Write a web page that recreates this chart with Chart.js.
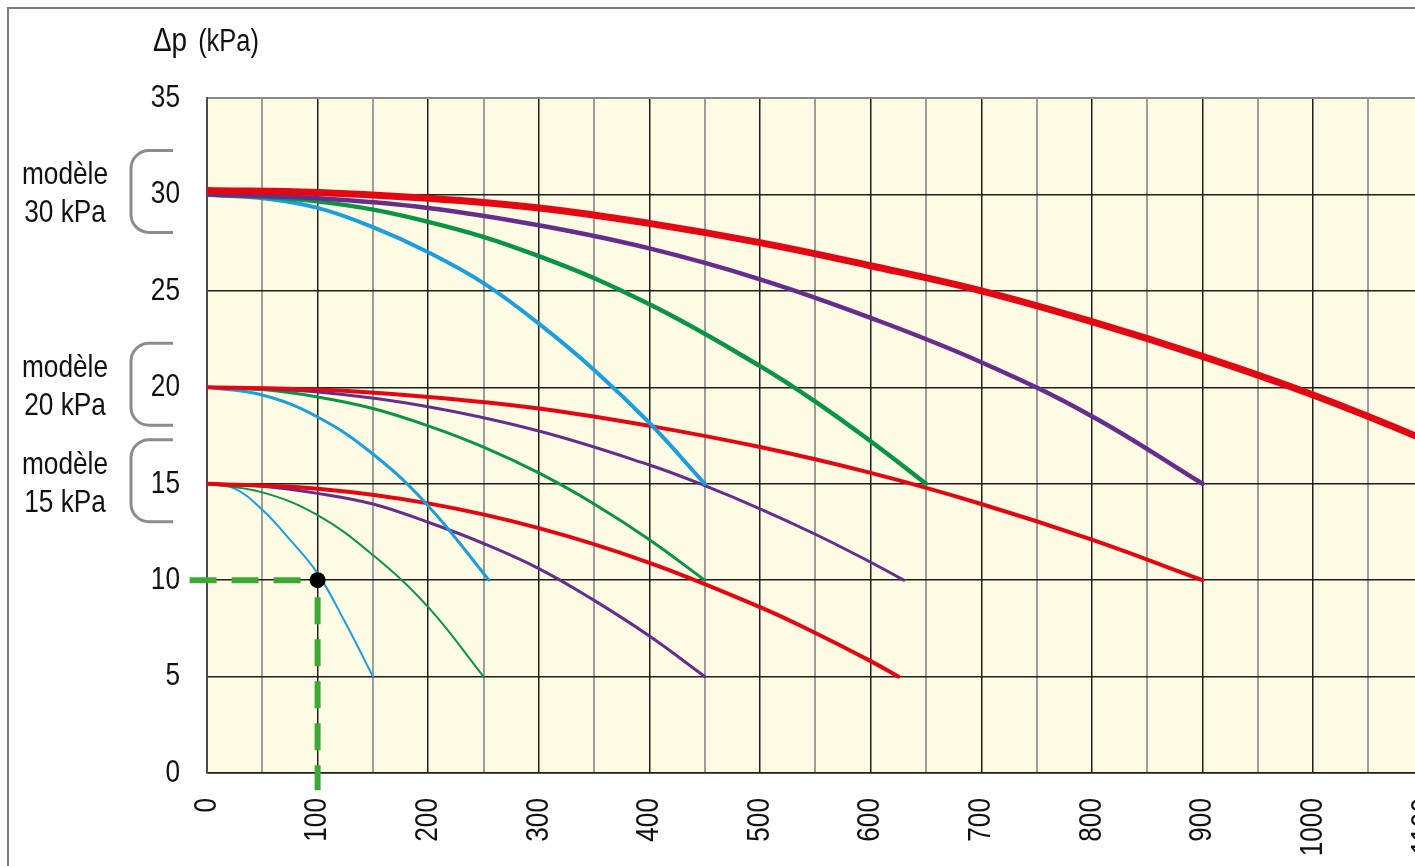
<!DOCTYPE html>
<html lang="fr">
<head>
<meta charset="utf-8">
<title>Courbes Δp (kPa)</title>
<script src="https://cdn.jsdelivr.net/npm/chart.js@4.4.1/dist/chart.umd.min.js"></script>
<style>
  html, body { margin: 0; padding: 0; background: #fff; overflow: hidden; }
  #wrap { position: relative; width: 1415px; height: 866px; overflow: hidden; }
  #frame { position: absolute; left: 7px; top: 7px; width: 1600px; height: 1000px;
           border-left: 2px solid #7d7d7d; border-top: 2px solid #7d7d7d; pointer-events: none; }
  #pumpChart { position: absolute; left: 0; top: 0; }
</style>
</head>
<body>
<div id="wrap">
  <div id="frame"></div>
  <canvas id="pumpChart" width="1499" height="866"></canvas>
</div>
<script>
// pump curves: Δp (kPa) vs flow, three models x four speeds
const FONT = "'Liberation Sans', Arial, sans-serif";
const NARROW = 0.82; // no condensed face installed, squeeze Liberation Sans instead

const xGrid = [0, 50, 100, 150, 200, 250, 300, 350, 400, 450, 500, 550, 600,
               650, 700, 750, 800, 850, 900, 950, 1000, 1050, 1100, 1150];
const xLabels = [0, 100, 200, 300, 400, 500, 600, 700, 800, 900, 1000, 1100];
const yGrid = [0, 5, 10, 15, 20, 25, 30, 35];

const models = [30, 20, 15];

// [flow, Δp]
const m15Blue   = [[0, 15], [25, 14.75], [50, 13.65], [75, 12.1], [100, 10.35], [125, 7.8], [150, 5]];
const m15Green  = [[0, 15], [50, 14.55], [100, 13.37], [150, 11.3], [200, 8.6], [250, 5]];
const m15Purple = [[0, 15], [50, 14.87], [100, 14.5], [150, 13.95], [200, 13], [250, 11.9], [300, 10.6], [350, 8.95], [400, 7.1], [450, 5]];
const m15Red    = [[0, 15], [100, 14.74], [200, 13.98], [300, 12.7], [400, 10.9], [500, 8.6], [550, 7.26], [600, 5.8], [625, 5]];

const m20Blue   = [[0, 20], [50, 19.6], [100, 18.46], [150, 16.54], [200, 13.85], [255, 10]];
const m20Green  = [[0, 20], [50, 19.88], [100, 19.5], [150, 18.9], [200, 18], [250, 16.9], [300, 15.56], [350, 13.95], [400, 12.1], [450, 10]];
const m20Purple = [[0, 20], [100, 19.75], [200, 18.99], [300, 17.73], [400, 15.97], [450, 14.9], [500, 13.7], [550, 12.38], [600, 10.93], [630, 10]];
const m20Red    = [[0, 20], [100, 19.88], [200, 19.5], [300, 18.9], [400, 18], [500, 16.9], [600, 15.56], [700, 13.95], [800, 12.1], [900, 10]];

const m30Blue   = [[0, 30], [50, 29.8], [100, 29.3], [150, 28.3], [200, 27], [250, 25.4], [300, 23.3], [350, 20.9], [400, 18.15], [450, 15]];
const m30Green  = [[0, 30], [100, 29.64], [200, 28.58], [300, 26.8], [400, 24.3], [500, 21.1], [550, 19.26], [600, 17.2], [650, 15]];
const m30Purple = [[0, 30], [100, 29.8], [200, 29.3], [300, 28.4], [400, 27.2], [500, 25.6], [600, 23.6], [700, 21.3], [800, 18.5], [900, 15]];
const m30Red    = [[0, 30.2], [100, 30.1], [200, 29.8], [300, 29.3], [400, 28.5], [500, 27.5], [600, 26.3], [700, 25], [800, 23.4], [900, 21.6], [1000, 19.6], [1100, 17.3], [1190, 15]];

// worked example: 100 at 10 kPa
const examplePoint = [100, 10];
const guideLeftEnd = [-17, 10];
const guideBottomEnd = [100, -0.9];

const C = { blue: '#1a9ee0', green: '#0a9443', purple: '#662d8c', red: '#e30613', guide: '#3aaa35', text: '#111' };

function curve(points, color, width) {
  return {
    data: points.map(([x, y]) => ({ x, y })),
    borderColor: color, borderWidth: width,
    pointRadius: 0, fill: false, tension: 0.4,
    borderCapStyle: 'round', borderJoinStyle: 'round'
  };
}

function guide(from, to) {
  return {
    data: [from, to].map(([x, y]) => ({ x, y })),
    borderColor: C.guide, borderWidth: 6,
    borderDash: [27, 15], borderDashOffset: 25,
    pointRadius: 0, fill: false, clip: false, tension: 0
  };
}

// bottom-most first, then reversed (Chart.js paints index 0 last)
const datasets = [
  curve(m15Blue, C.blue, 2), curve(m15Green, C.green, 2),
  curve(m15Purple, C.purple, 3), curve(m15Red, C.red, 4),
  curve(m20Blue, C.blue, 3), curve(m20Green, C.green, 3),
  curve(m20Purple, C.purple, 3), curve(m20Red, C.red, 4),
  curve(m30Blue, C.blue, 4), curve(m30Green, C.green, 4.5),
  curve(m30Purple, C.purple, 4.5), curve(m30Red, C.red, 7),
  guide(examplePoint, guideLeftEnd), guide(examplePoint, guideBottomEnd),
  { data: [{ x: examplePoint[0], y: examplePoint[1] }], showLine: false,
    pointRadius: 8, pointBackgroundColor: '#000', pointBorderWidth: 0, clip: false }
].reverse();

// condensed-looking text: squeeze along the writing direction
function narrowText(ctx, text, x, y, size, align, baseline, angle) {
  ctx.save();
  ctx.translate(x, y);
  if (angle) ctx.rotate(angle);
  ctx.scale(NARROW, 1);
  ctx.font = `${size}px ${FONT}`;
  ctx.textAlign = align;
  ctx.textBaseline = baseline;
  ctx.fillText(text, 0, 0);
  const w = ctx.measureText(text).width * NARROW;
  ctx.restore();
  return w;
}

const decor = {
  id: 'decor',
  beforeDraw(chart) {
    const { ctx, chartArea: a } = chart;
    ctx.save();
    ctx.fillStyle = '#fefbe5';
    ctx.fillRect(a.left, a.top, a.right - a.left, a.bottom - a.top);
    ctx.restore();
  },
  afterDraw(chart) {
    const { ctx, chartArea: a } = chart;
    const xs = chart.scales.x, ys = chart.scales.y;
    ctx.save();
    ctx.fillStyle = C.text;

    // tick labels
    yGrid.forEach(v => narrowText(ctx, String(v), a.left - 27, ys.getPixelForValue(v), 32, 'right', 'middle'));
    xLabels.forEach(v => narrowText(ctx, String(v), xs.getPixelForValue(v), a.bottom + 25, 32, 'right', 'middle', -Math.PI / 2));

    // model brackets
    models.forEach(m => {
      const py = ys.getPixelForValue(m);
      narrowText(ctx, 'modèle', 65, py - 10, 32, 'center', 'alphabetic');
      narrowText(ctx, m + ' kPa', 65, py + 28, 32, 'center', 'alphabetic');
      const top = py - 44, bot = py + 38, lx = 131, rx = 173, r = 18;
      ctx.beginPath();
      ctx.moveTo(rx, top);
      ctx.lineTo(lx + r, top);
      ctx.arcTo(lx, top, lx, top + r, r);
      ctx.lineTo(lx, bot - r);
      ctx.arcTo(lx, bot, lx + r, bot, r);
      ctx.lineTo(rx, bot);
      ctx.strokeStyle = '#8c8c8c';
      ctx.lineWidth = 3;
      ctx.stroke();
    });

    // axis title
    const w = narrowText(ctx, 'Δp', 153, 51, 34, 'left', 'alphabetic');
    narrowText(ctx, '(kPa)', 153 + w + 11, 51, 31, 'left', 'alphabetic');
    ctx.restore();
  }
};

const isMajor = v => v % 100 === 0;

new Chart(document.getElementById('pumpChart'), {
  type: 'line',
  data: { datasets },
  options: {
    responsive: false,
    animation: false,
    events: [],
    layout: { padding: { top: 98, left: 0, right: 20, bottom: 0 } },
    plugins: { legend: { display: false }, tooltip: { enabled: false } },
    scales: {
      x: {
        type: 'linear', min: 0, max: 1150,
        afterBuildTicks: s => { s.ticks = xGrid.map(v => ({ value: v })); },
        afterFit: s => { s.height = 93; s.paddingLeft = 0; s.paddingRight = 0; },
        grid: {
          drawTicks: false,
          color: c => isMajor(c.tick.value) ? '#1e1e1e' : '#9d9d9d',
          lineWidth: c => isMajor(c.tick.value) ? 1.5 : 2
        },
        border: { display: true, color: '#1e1e1e', width: 1.5 },
        ticks: { display: false }
      },
      y: {
        min: 0, max: 35,
        afterBuildTicks: s => { s.ticks = yGrid.map(v => ({ value: v })); },
        afterFit: s => { s.width = 207; },
        grid: {
          drawTicks: false,
          color: c => c.tick.value === 35 ? '#8a8a8a' : '#1e1e1e',
          lineWidth: c => c.tick.value === 35 ? 2 : 1.5
        },
        border: { color: '#4a4a4a', width: 2 },
        ticks: { display: false }
      }
    }
  },
  plugins: [decor]
});
</script>
</body>
</html>
